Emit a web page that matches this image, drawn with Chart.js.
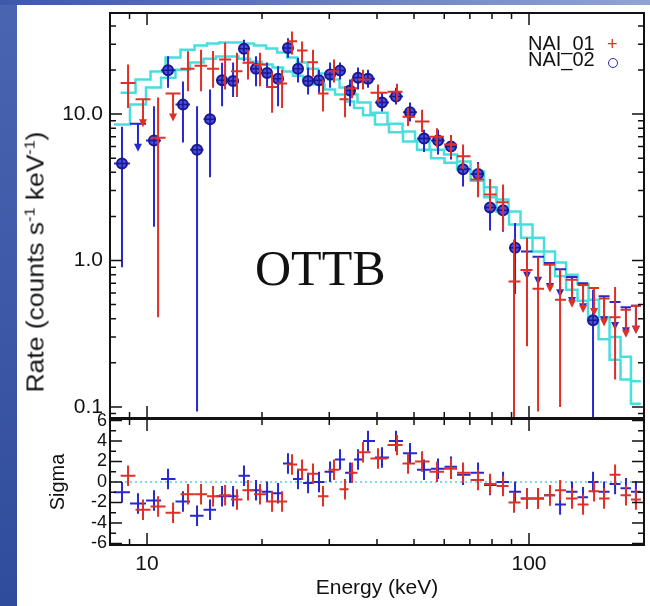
<!DOCTYPE html>
<html lang="en">
<head>
<meta charset="utf-8">
<title>OTTB fit, NAI_01 / NAI_02</title>
<script src="https://cdn.jsdelivr.net/npm/chart.js@4.4.1/dist/chart.umd.min.js"></script>
<style>
  html, body { margin: 0; padding: 0; background: #fff; }
  body { position: relative; width: 650px; height: 606px; overflow: hidden; font-family: "Liberation Sans", Arial, sans-serif; color: #111; }
  canvas { position: absolute; left: 0; }
  #spectrum { top: 0; }
  #residuals { top: 400px; }
  .band { position: absolute; z-index: 2; }
  #band-left { left: 0; top: 0; width: 17px; height: 606px; background: linear-gradient(#4a66b2, #2f4c9c); }
  #band-top { left: 0; top: 0; width: 650px; height: 5px; background: linear-gradient(90deg, #3d58a6, #90a4d4); }
  .txt { position: absolute; white-space: nowrap; z-index: 3; }
  #model-name { left: 255px; top: 243px; font: 50px/50px "Liberation Serif", "Times New Roman", serif; }
  #rate-title { left: 36px; top: 262px; font-size: 23px; line-height: 23px; transform: translate(-50%, -50%) rotate(-90deg) scaleX(1.15); }
  #rate-title sup { font-size: 14px; line-height: 0; vertical-align: 9px; }
  .legend { left: 528px; font-size: 20px; line-height: 20px; }
  #leg-red { top: 33px; }
  #leg-blue { top: 49px; }
  #mark-red { left: 607px; top: 34px; font-size: 18px; line-height: 20px; color: rgb(222, 48, 38); }
  #mark-blue { left: 608px; top: 58px; width: 8px; height: 8px; border: 1.5px solid rgb(40, 40, 180); border-radius: 50%; }
</style>
</head>
<body>
<div class="band" id="band-left"></div>
<div class="band" id="band-top"></div>
<canvas id="spectrum" width="650" height="420"></canvas>
<canvas id="residuals" width="650" height="206"></canvas>
<div class="txt" id="model-name">OTTB</div>
<div class="txt" id="rate-title">Rate (counts s<sup>-1</sup> keV<sup>-1</sup>)</div>
<div class="txt legend" id="leg-red">NAI_01</div>
<div class="txt legend" id="leg-blue">NAI_02</div>
<div class="txt" id="mark-red">+</div>
<div class="txt" id="mark-blue"></div>
<script>
// NAI_01 (red crosses): bin centres in keV, rate, error bar ends (null = upper limit)
const redEnergy = [8.92, 9.76, 10.69, 11.70, 12.80, 13.85, 14.89, 16.01, 17.20, 18.38, 19.76, 21.25, 22.57, 23.97, 25.46, 27.20, 28.89, 30.87, 32.99, 34.41, 36.76, 40.24, 45.13, 48.23, 52.48, 57.43, 62.49, 67.19, 73.55, 79.06, 85.51, 91.36, 98.80, 105.6, 113.5, 120.6, 129.6, 138.5, 148.0, 157.2, 168.0, 179.4, 190.5];
const redRate = [16.3, 12.6, 6.9, 13.8, 20.4, 21.4, 20.4, 23.6, 19.6, 22.4, 21.8, 15.3, 16.2, 31.4, 27.2, 22.6, 13.8, 19.6, 12.6, 15.0, 17.2, 14.0, 14.2, 9.6, 8.9, 7.0, 6.2, 5.15, 3.57, 2.82, 2.5, 0.72, 0.86, 0.64, 0.94, 0.54, 0.74, 0.68, 0.65, 0.55, 0.41, 0.46, 0.49];
const redHigh = [21.8, null, 13.0, null, 26.9, 27.5, 27.0, 30.8, 26.2, 27.5, 26.2, 19.2, 20.1, 36.6, 31.3, 27.5, 17.2, 23.6, 15.5, 17.5, 20.1, 15.9, 16.1, 11.0, 10.7, 8.0, 7.2, 6.2, 4.6, 3.6, 3.3, 1.39, 1.43, 1.06, null, 0.87, null, null, null, null, 0.66, null, null];
const redLow = [11.0, null, 0.41, null, 14.3, 14.3, 15.1, 14.7, 13.1, 17.2, 15.5, 10.2, 11.0, 25.5, 22.4, 18.0, 10.4, 16.4, 9.5, 12.8, 14.7, 12.0, 12.2, 8.3, 7.5, 5.9, 5.1, 4.2, 2.7, 2.2, 1.6, 0.01, 0.26, 0.093, null, 0.10, null, null, null, null, 0.154, null, null];
const redModel = [14.0, 17.2, 19.5, 24.3, 27.5, 29.4, 30.3, 30.8, 30.8, 30.3, 29.4, 28.0, 26.3, 24.3, 22.5, 20.4, 18.9, 17.2, 15.2, 13.6, 12.0, 10.2, 8.6, 7.6, 6.6, 5.7, 5.3, 4.75, 4.05, 3.16, 2.61, 2.16, 1.76, 1.43, 1.15, 0.97, 0.80, 0.69, 0.54, 0.41, 0.30, 0.22, 0.15];
const redSigma = [0.6, -2.7, -2.4, -3.0, -1.2, -1.2, -1.4, -1.3, -1.7, -0.8, -1.2, -1.9, -1.9, 1.7, 1.2, 0.8, -1.4, 1.2, -0.7, 0.9, 2.9, 2.3, 3.6, 1.8, 2.0, 1.0, 1.3, 0.9, 0.2, -0.2, -0.4, -2.0, -1.6, -1.6, -1.3, -0.8, -1.6, -2.2, -0.9, -1.6, 0.7, -1.3, -1.7];

// NAI_02 (blue circles)
const blueEnergy = [8.60, 9.47, 10.43, 11.35, 12.42, 13.52, 14.62, 15.72, 16.80, 17.94, 19.29, 20.62, 22.03, 23.39, 24.85, 26.40, 28.20, 30.14, 32.01, 34.00, 35.68, 37.89, 41.22, 44.85, 48.81, 53.11, 57.78, 62.49, 67.19, 73.55, 79.06, 85.51, 91.93, 98.80, 105.6, 113.5, 120.6, 129.6, 138.5, 147.1, 157.2, 168.0, 179.4, 190.5];
const blueRate = [4.6, 8.6, 6.6, 19.9, 11.6, 5.7, 9.2, 17.0, 16.8, 27.9, 20.4, 19.1, 17.4, 28.3, 20.4, 16.8, 17.0, 18.6, 19.8, 14.5, 17.7, 17.4, 12.0, 13.2, 10.3, 6.8, 6.6, 6.0, 4.2, 3.9, 2.3, 2.2, 1.22, 1.15, 1.06, 0.96, 0.87, 0.77, 0.70, 0.39, 0.57, 0.52, 0.48, 0.49];
const blueHigh = [8.2, null, 11.3, 24.8, 16.7, 11.3, 14.7, 22.4, 22.5, 32.2, 24.8, 22.5, 21.2, 33.0, 24.2, 20.8, 20.1, 22.5, 22.5, 17.2, 20.8, 20.1, 13.9, 15.1, 12.0, 7.8, 7.8, 7.2, 5.0, 4.7, 3.05, 2.9, 1.8, null, null, null, null, null, null, 0.63, null, null, null, null];
const blueLow = [0.9, null, 1.7, 15.1, 6.4, 0.093, 3.7, 11.3, 13.1, 22.9, 15.5, 15.5, 11.3, 24.2, 16.4, 13.6, 14.0, 15.1, 17.2, 11.3, 14.7, 15.1, 10.4, 11.6, 8.9, 5.5, 5.3, 4.9, 3.2, 2.8, 1.6, 1.57, 0.59, null, null, null, null, null, null, 0.01, null, null, null, null];
const blueModel = [8.5, 11.6, 15.2, 17.7, 20.1, 22.5, 23.9, 24.7, 24.7, 23.9, 22.8, 21.8, 20.8, 19.5, 18.3, 17.2, 15.9, 14.7, 13.6, 12.2, 11.0, 9.8, 8.5, 7.5, 6.5, 5.7, 5.0, 4.65, 4.18, 3.5, 2.7, 2.16, 1.76, 1.43, 1.15, 0.94, 0.78, 0.63, 0.53, 0.39, 0.29, 0.21, 0.154, 0.105];
const blueSigma = [-1.0, -2.1, -1.8, 0.3, -1.9, -3.3, -2.7, -1.4, -1.4, 0.6, -0.8, -0.95, -1.1, 1.8, 0.3, -0.1, 0.0, 1.0, 2.2, 0.9, 2.2, 4.0, 2.4, 4.0, 2.8, 1.2, 1.3, 1.5, 0.7, 0.9, -0.3, 0.0, -0.95, -1.6, -1.6, -1.3, -2.2, -0.95, -1.5, 0.0, -0.95, -0.2, -0.6, -0.95];

// axis ticks
const energyMajor = [10, 100];
const energyMinor = [9, 20, 30, 40, 50, 60, 70, 80, 90, 200];
const rateMajor = [0.1, 1, 10];
const rateMinor = [0.09, 0.2, 0.3, 0.4, 0.5, 0.6, 0.7, 0.8, 0.9, 2, 3, 4, 5, 6, 7, 8, 9, 20, 30, 40];
const sigmaMajor = [-6, -4, -2, 0, 2, 4, 6];
const sigmaMinor = [-5, -3, -1, 1, 3, 5];

const RED = 'rgb(222, 48, 38)';
const BLUE = 'rgb(40, 40, 205)';
const CYAN = 'rgb(72, 222, 222)';
const tickFont = { family: 'Liberation Sans', size: 21 };

// bin edges half way (in log) between neighbouring centres
function binEdges(centres) {
  const lo = [], hi = [];
  centres.forEach((c, i) => {
    const prev = i > 0 ? centres[i - 1] : c * c / centres[i + 1];
    const next = i < centres.length - 1 ? centres[i + 1] : c * c / centres[i - 1];
    lo.push(Math.sqrt(prev * c));
    hi.push(Math.sqrt(c * next));
  });
  return { lo, hi };
}

function stepPoints(centres, values) {
  const { lo, hi } = binEdges(centres);
  const pts = [];
  values.forEach((v, i) => {
    pts.push({ x: lo[i], y: v }, { x: hi[i], y: v });
  });
  return pts;
}

const toPoints = (xs, ys) => xs.map((x, i) => ({ x, y: ys[i] }));

// the frame is drawn by hand, so the axes must not reserve room for labels at the ends
const noEndPadding = s => {
  s.paddingTop = 0;
  s.paddingBottom = 0;
  s.paddingLeft = 0;
  s.paddingRight = 0;
};

const errorBars = {
  id: 'errorBars',
  afterDatasetsDraw(chart) {
    const { ctx, chartArea: a, scales } = chart;
    ctx.save();
    ctx.beginPath();
    ctx.rect(a.left, a.top, a.right - a.left, a.bottom - a.top);
    ctx.clip();
    chart.data.datasets.forEach(ds => {
      const e = ds.errors;
      if (!e) return;
      const { lo, hi } = binEdges(e.energy);
      ds.data.forEach((p, i) => {
        const x = scales.x.getPixelForValue(p.x);
        const x1 = scales.x.getPixelForValue(lo[i]);
        const x2 = scales.x.getPixelForValue(hi[i]);
        const y = scales.y.getPixelForValue(p.y);
        ctx.strokeStyle = e.color;
        ctx.fillStyle = e.color;
        ctx.lineWidth = 2;
        ctx.beginPath();
        ctx.moveTo(x1, y);
        ctx.lineTo(x2, y);
        const up = e.high ? e.high[i] : p.y + 1;
        const down = e.low ? e.low[i] : p.y - 1;
        if (up === null) {
          // upper limit: bar with a downward arrow
          ctx.moveTo(x, y);
          ctx.lineTo(x, y + 22);
          ctx.stroke();
          ctx.beginPath();
          ctx.moveTo(x - 4, y + 20);
          ctx.lineTo(x + 4, y + 20);
          ctx.lineTo(x, y + 28);
          ctx.closePath();
          ctx.fill();
          return;
        }
        ctx.moveTo(x, scales.y.getPixelForValue(up));
        ctx.lineTo(x, scales.y.getPixelForValue(down));
        ctx.stroke();
        if (e.circle) {
          ctx.beginPath();
          ctx.arc(x, y, 5, 0, Math.PI * 2);
          ctx.fillStyle = 'rgb(75, 75, 235)';
          ctx.fill();
          ctx.lineWidth = 2;
          ctx.strokeStyle = 'rgb(25, 25, 140)';
          ctx.stroke();
          ctx.beginPath();
          ctx.lineWidth = 1.5;
          ctx.moveTo(x - 5, y);
          ctx.lineTo(x + 5, y);
          ctx.moveTo(x, y - 5);
          ctx.lineTo(x, y + 5);
          ctx.stroke();
        }
      });
    });
    ctx.restore();
  }
};

const frame = {
  id: 'frame',
  afterDraw(chart, args, opts) {
    const { ctx, chartArea: a, scales } = chart;
    ctx.save();
    ctx.strokeStyle = '#111';
    ctx.lineWidth = 2;
    ctx.strokeRect(a.left, a.top, a.right - a.left, a.bottom - a.top);
    ctx.lineWidth = 1.5;
    ctx.beginPath();
    const xTicks = (vals, len) => vals.forEach(v => {
      const x = scales.x.getPixelForValue(v);
      ctx.moveTo(x, a.top); ctx.lineTo(x, a.top + len);
      ctx.moveTo(x, a.bottom); ctx.lineTo(x, a.bottom - len);
    });
    const yTicks = (vals, len) => vals.forEach(v => {
      const y = scales.y.getPixelForValue(v);
      ctx.moveTo(a.left, y); ctx.lineTo(a.left + len, y);
      ctx.moveTo(a.right, y); ctx.lineTo(a.right - len, y);
    });
    xTicks(energyMajor, 12);
    xTicks(energyMinor, 6);
    yTicks(opts.major, 12);
    yTicks(opts.minor, 6);
    ctx.stroke();
    ctx.restore();
  }
};

const energyScale = {
  type: 'logarithmic', min: 8, max: 200,
  afterBuildTicks: s => { s.ticks = energyMajor.map(v => ({ value: v })); }
};

new Chart(document.getElementById('spectrum'), {
  type: 'line',
  data: {
    datasets: [
      { data: toPoints(blueEnergy, blueRate), showLine: false, pointRadius: 0,
        errors: { energy: blueEnergy, high: blueHigh, low: blueLow, color: BLUE, circle: true } },
      { data: toPoints(redEnergy, redRate), showLine: false, pointRadius: 0,
        errors: { energy: redEnergy, high: redHigh, low: redLow, color: RED } },
      { data: stepPoints(redEnergy, redModel), borderColor: CYAN, borderWidth: 2.5, pointRadius: 0, tension: 0 },
      { data: stepPoints(blueEnergy, blueModel), borderColor: CYAN, borderWidth: 2.5, pointRadius: 0, tension: 0 }
    ]
  },
  options: {
    responsive: false,
    animation: false,
    layout: { padding: { top: 13, right: 6, bottom: 2, left: 0 } },
    plugins: {
      legend: { display: false },
      tooltip: { enabled: false },
      frame: { major: rateMajor, minor: rateMinor }
    },
    scales: {
      x: Object.assign({}, energyScale, { display: false }),
      y: {
        type: 'logarithmic', min: 0.084, max: 49,
        grid: { display: false, drawTicks: false },
        border: { display: false },
        afterFit: s => { s.width = 110; noEndPadding(s); },
        afterBuildTicks: s => { s.ticks = rateMajor.map(v => ({ value: v })); },
        ticks: { autoSkip: false, padding: 7, color: '#111', font: tickFont, callback: v => Number(v).toFixed(1) }
      }
    }
  },
  plugins: [errorBars, frame]
});

new Chart(document.getElementById('residuals'), {
  type: 'line',
  data: {
    datasets: [
      { data: toPoints(blueEnergy, blueSigma), showLine: false, pointRadius: 0,
        errors: { energy: blueEnergy, color: BLUE } },
      { data: toPoints(redEnergy, redSigma), showLine: false, pointRadius: 0,
        errors: { energy: redEnergy, color: RED } },
      { data: [{ x: 8, y: 0 }, { x: 200, y: 0 }], borderColor: 'rgb(90, 200, 235)', borderWidth: 1.5,
        borderDash: [2, 3], pointRadius: 0 }
    ]
  },
  options: {
    responsive: false,
    animation: false,
    layout: { padding: { top: 19, right: 6, bottom: 0, left: 0 } },
    plugins: {
      legend: { display: false },
      tooltip: { enabled: false },
      frame: { major: sigmaMajor, minor: sigmaMinor }
    },
    scales: {
      x: Object.assign({}, energyScale, {
        grid: { display: false, drawTicks: false },
        border: { display: false },
        afterFit: s => { s.height = 61; noEndPadding(s); },
        ticks: { autoSkip: false, maxRotation: 0, padding: 7, color: '#111', font: tickFont, callback: v => String(v) },
        title: { display: true, text: 'Energy (keV)', color: '#111', font: { family: 'Liberation Sans', size: 21 }, padding: { top: 0, bottom: 5 } }
      }),
      y: {
        type: 'linear', min: -6.15, max: 6.15,
        grid: { display: false, drawTicks: false },
        border: { display: false },
        afterFit: s => { s.width = 110; noEndPadding(s); },
        afterBuildTicks: s => { s.ticks = sigmaMajor.map(v => ({ value: v })); },
        ticks: { autoSkip: false, padding: 3, color: '#111', font: { family: 'Liberation Sans', size: 18 }, callback: v => String(v) },
        title: { display: true, text: 'Sigma', color: '#111', font: { family: 'Liberation Sans', size: 20 }, padding: { top: 46, bottom: 0 } }
      }
    }
  },
  plugins: [errorBars, frame]
});
</script>
</body>
</html>
